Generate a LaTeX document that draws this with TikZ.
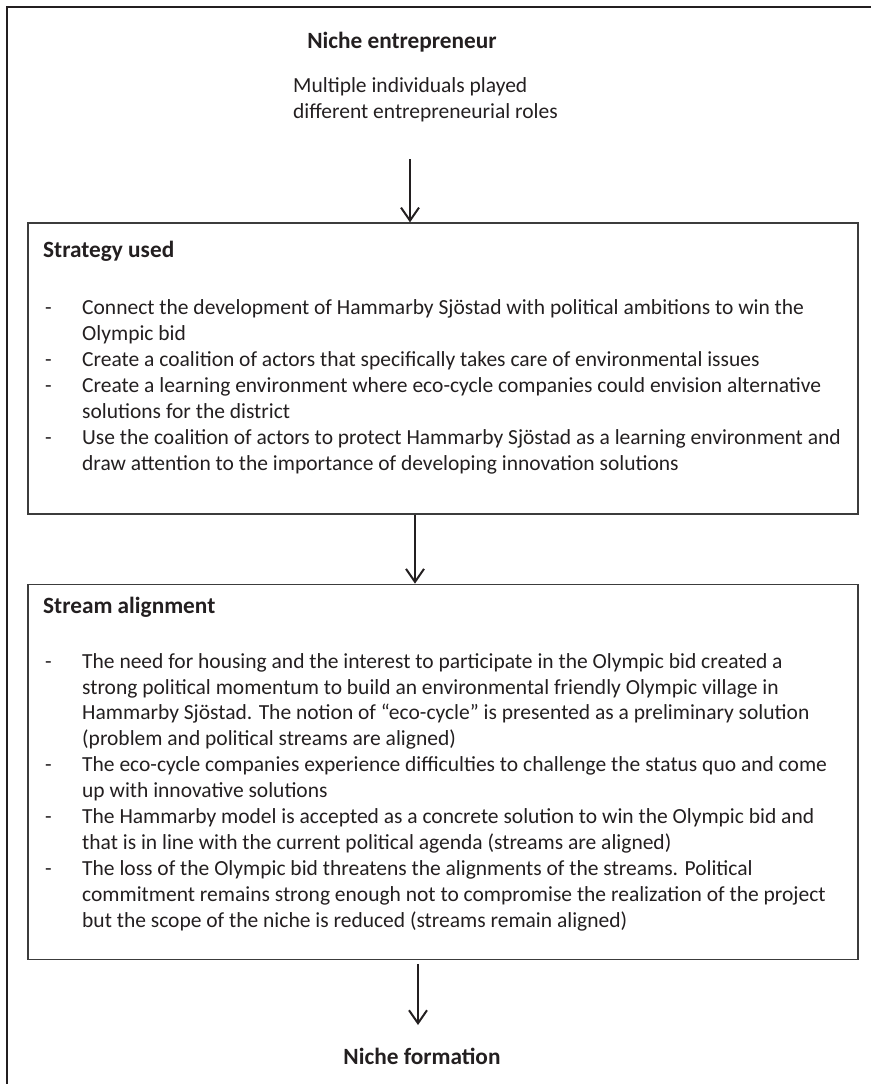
\documentclass[tikz,border=0pt]{standalone}
\usepackage{fontspec}
\setmainfont{Carlito}
\usetikzlibrary{positioning,arrows.meta}
\definecolor{inkgray}{HTML}{231F20}
\definecolor{boxgray}{HTML}{3C3C3C}
\newcommand{\dsh}{\makebox[37pt][l]{-}}
\newcommand{\ind}{\hspace*{37pt}}

\begin{document}
\begin{tikzpicture}[%
    x=1pt, y=-1pt,
    >={Straight Barb[length=13pt,width=18pt,line width=2pt]},
    flow/.style={->, line width=2pt, inkgray},
    stagebox/.style={draw=boxgray, line width=1.3pt, minimum width=830pt, inner sep=0},
    head/.style={font=\fontsize{23.3}{28}\selectfont\bfseries, text=inkgray, inner sep=0},
    body/.style={font=\fontsize{21.5}{25.9}\selectfont, text=inkgray, inner sep=0, align=left}
  ]
    \useasboundingbox (0,0) rectangle (870,1084);
    % outer frame (cut off at right and bottom)
    \draw[line width=2pt, inkgray] (7,1090) -- (7,7) -- (880,7);

    \node[head, anchor=base] (1) at (402,48.3) {Niche entrepreneur};
    \node[body, anchor=north west] (1a) at (293,77) {Multiple individuals played\\different entrepreneurial roles};

    \node[stagebox, minimum height=291pt] (2) at (443,368.5) {};
    \node[stagebox, minimum height=375pt] (3) [below=69pt of 2] {};

    \node[head, anchor=base west] (2h) at (43,257) {Strategy used};
    \node[body, anchor=north west] (2l) at (45,299.5) {%
      \dsh Connect the development of Hammarby Sjöstad with political ambitions to win the\\
      \ind Olympic bid\\
      \dsh Create a coalition of actors that specifically takes care of environmental issues\\
      \dsh Create a learning environment where eco-cycle companies could envision alternative\\
      \ind solutions for the district\\
      \dsh Use the coalition of actors to protect Hammarby Sjöstad as a learning environment and\\
      \ind draw attention to the importance of developing innovation solutions};

    \node[head, anchor=base west] (3h) at (43,613) {Stream alignment};
    \node[body, anchor=north west] (3l) at (45,653) {%
      \dsh The need for housing and the interest to participate in the Olympic bid created a\\
      \ind strong political momentum to build an environmental friendly Olympic village in\\
      \ind Hammarby Sjöstad. The notion of “eco-cycle” is presented as a preliminary solution\\
      \ind (problem and political streams are aligned)\\
      \dsh The eco-cycle companies experience difficulties to challenge the status quo and come\\
      \ind up with innovative solutions\\
      \dsh The Hammarby model is accepted as a concrete solution to win the Olympic bid and\\
      \ind that is in line with the current political agenda (streams are aligned)\\
      \dsh The loss of the Olympic bid threatens the alignments of the streams. Political\\
      \ind commitment remains strong enough not to compromise the realization of the project\\
      \ind but the scope of the niche is reduced (streams remain aligned)};

    \node[head, anchor=base] (4) at (422,1064) {Niche formation};

    \coordinate (a1) at (410,159);
    \coordinate (a2) at (415,0);
    \coordinate (a3) at (418,1025);
    \draw[flow] (a1) -- (a1 |- 2.north);
    \draw[flow] (a2 |- 2.south) -- (a2 |- 3.north);
    \draw[flow] ([yshift=-4pt]a3 |- 3.south) -- (a3);
\end{tikzpicture}
\end{document}
